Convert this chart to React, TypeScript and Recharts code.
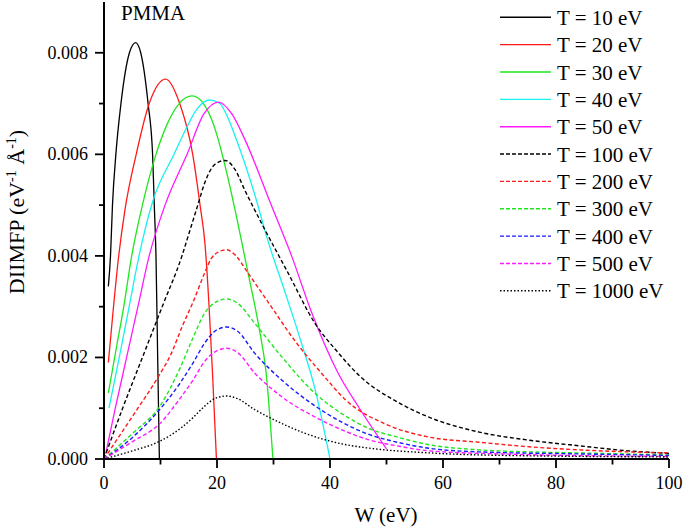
import React from "react";
import { LineChart, Line, XAxis, YAxis, Legend } from "recharts";

// [W (eV), DIIMFP (eV^-1 Å^-1)]
const T10: [number, number][] = [
  [0.77, 0.0034], [1.15, 0.004], [1.5, 0.005], [2.1, 0.006], [3.0, 0.007], [4.5, 0.008],
  [5.6, 0.0082], [6.5, 0.008], [7.8, 0.007], [8.6, 0.006], [8.9, 0.005], [9.2, 0.004],
  [9.5, 0.002], [9.8, 0.0],
];
const T20: [number, number][] = [
  [0.77, 0.0019], [1.6, 0.0029], [2.5, 0.0039], [3.7, 0.0049], [5.7, 0.006], [8.0, 0.007],
  [10.9, 0.00748], [13.4, 0.007], [15.7, 0.006], [17.0, 0.005], [17.9, 0.0042], [18.6, 0.003],
  [19.2, 0.0017], [19.9, 0.0],
];
const T30: [number, number][] = [
  [0.77, 0.0013], [2.2, 0.0022], [3.5, 0.003], [4.9, 0.004], [6.8, 0.005], [9.2, 0.006],
  [11.2, 0.0066], [13.3, 0.007], [15.6, 0.00715], [17.6, 0.007], [19.0, 0.0067], [20.2, 0.0063],
  [21.8, 0.0056], [23.7, 0.00464], [25.5, 0.00366], [27.3, 0.00267], [28.7, 0.00169], [29.9, 0.0],
];
const T40: [number, number][] = [
  [0.88, 0.001], [2.7, 0.002], [4.45, 0.003], [6.2, 0.004], [8.7, 0.0051], [12.4, 0.006],
  [14.5, 0.0065], [16.5, 0.0069], [18.7, 0.00707], [20.5, 0.007], [22.0, 0.0067], [23.4, 0.0063],
  [26.7, 0.0052], [29.0, 0.0043], [32.0, 0.0033], [34.9, 0.0023], [37.3, 0.0014], [40.0, 0.0],
];
const T50: [number, number][] = [
  [0.3, 0.0001], [2.0, 0.001], [4.0, 0.002], [6.0, 0.003], [8.0, 0.004], [10.8, 0.005],
  [14.7, 0.006], [17.7, 0.0068], [20.3, 0.00703], [22.6, 0.0068], [24.9, 0.0063], [29.6, 0.005],
  [33.2, 0.004], [36.7, 0.0029], [41.4, 0.0017], [45.2, 0.001], [50.0, 0.0002],
];
const T100: [number, number][] = [
  [0, 0], [3.3, 0.001], [6.8, 0.002], [10.3, 0.003], [13.8, 0.004], [15.2, 0.0045], [16.6, 0.005],
  [17.8, 0.00543], [19.6, 0.0058], [21.4, 0.00588], [23.2, 0.0057], [24.9, 0.0053], [27.9, 0.00464],
  [32.6, 0.00366], [37.3, 0.00268], [41.4, 0.0021], [45.2, 0.00164], [52.3, 0.0011], [57.6, 0.00082],
  [66.4, 0.00053], [75.3, 0.00037], [84.1, 0.00026], [92.9, 0.00016], [100, 0.00011],
];
const T200: [number, number][] = [
  [0, 0], [3, 0.0005], [6, 0.001], [9.5, 0.0016], [12, 0.0021], [13.8, 0.0026], [15.8, 0.0031],
  [17.8, 0.00366], [19.0, 0.00395], [20.3, 0.00408], [21.7, 0.00412], [23.2, 0.00402],
  [25.5, 0.00366], [29.6, 0.003], [33.7, 0.00234], [38.5, 0.00169], [42.8, 0.00116],
  [50.0, 0.00068], [57.6, 0.00043], [66.4, 0.00033], [75.3, 0.00024], [84.1, 0.00018],
  [92.9, 0.00014], [100, 0.00012],
];
const T300: [number, number][] = [
  [0, 0], [5, 0.0005], [10, 0.00106], [13.5, 0.0018], [15.8, 0.0024], [17.8, 0.00287],
  [19.8, 0.00309], [21.7, 0.00315], [23.6, 0.00307], [26.7, 0.00267], [31.4, 0.00202],
  [37.3, 0.0013], [42, 0.0009], [46.5, 0.00062], [52.3, 0.00042], [57.6, 0.00028],
  [66.4, 0.00018], [75.3, 0.00014], [84.1, 0.00012], [100, 0.00008],
];
const T400: [number, number][] = [
  [0, 0], [5, 0.00042], [9.5, 0.00093], [13.5, 0.0015], [15.8, 0.0019], [17.8, 0.00228],
  [19.8, 0.00253], [21.7, 0.0026], [23.6, 0.00252], [26.7, 0.00208], [31.4, 0.00156],
  [37.3, 0.00105], [42, 0.00073], [46.5, 0.0005], [52.3, 0.00032], [57.6, 0.00021],
  [66.4, 0.00014], [84.1, 0.0001], [100, 0.00007],
];
const T500: [number, number][] = [
  [0, 0], [5, 0.00034], [10, 0.00071], [13.5, 0.0012], [15.8, 0.00156], [17.8, 0.00192],
  [19.8, 0.00212], [21.7, 0.00218], [23.6, 0.0021], [26.7, 0.00169], [31.4, 0.00123],
  [37.3, 0.00083], [42, 0.00058], [46.5, 0.00039], [52.3, 0.00025], [57.6, 0.00016],
  [70, 0.0001], [100, 0.00005],
];
const T1000: [number, number][] = [
  [0, 0], [5, 0.00016], [9.5, 0.00033], [13.5, 0.0006], [15.8, 0.00082], [17.8, 0.00104],
  [19.8, 0.0012], [21.7, 0.00124], [23.6, 0.00119], [26.7, 0.00097], [29.6, 0.0008],
  [35.5, 0.00051], [42, 0.0003], [46.5, 0.00022], [57.6, 0.00012], [66.4, 0.00008], [100, 0.00004],
];

const SERIES_NAMES = [
  "T = 10 eV", "T = 20 eV", "T = 30 eV", "T = 40 eV", "T = 50 eV",
  "T = 100 eV", "T = 200 eV", "T = 300 eV", "T = 400 eV", "T = 500 eV", "T = 1000 eV",
];
const SERIES_DATA = [T10, T20, T30, T40, T50, T100, T200, T300, T400, T500, T1000];
const SERIES_COLORS = [
  "#000000", "#ff1a1a", "#1fe61f", "#1af0f0", "#ff1aff",
  "#000000", "#ff1a1a", "#1fe61f", "#1a1aff", "#ff1aff", "#000000",
];
const SERIES_DASH = [
  undefined, undefined, undefined, undefined, undefined,
  "4 2.5", "4 2.5", "4 2.5", "4 2.5", "4 2.5", "1.5 2",
];
const LEGEND_DASH = [
  undefined, undefined, undefined, undefined, undefined,
  "4 2", "4 2", "4 2", "4 2", "4 2", "1.5 2",
];

const X_TICKS = [0, 10, 20, 30, 40, 50, 60, 70, 80, 90, 100];
const Y_TICKS = [0, 0.001, 0.002, 0.003, 0.004, 0.005, 0.006, 0.007, 0.008];

const FONT = "'Liberation Serif', 'Times New Roman', serif";

const XTick = (props: any) => {
  const { x, y, payload } = props;
  const v = payload.value as number;
  const major = Math.round(v) % 20 === 0;
  return (
    <g>
      <line x1={x} x2={x} y1={y} y2={y + (major ? 9 : 5.5)} stroke="#000" strokeWidth={1.8} />
      {major && (
        <text x={x} y={y + 29.5} textAnchor="middle" fontFamily={FONT} fontSize={18} fill="#000">
          {String(v)}
        </text>
      )}
    </g>
  );
};

const YTick = (props: any) => {
  const { x, y, payload } = props;
  const v = payload.value as number;
  const major = Math.round(v * 1000) % 2 === 0;
  return (
    <g>
      <line x1={x} x2={x - (major ? 9 : 5)} y1={y} y2={y} stroke="#000" strokeWidth={1.8} />
      {major && (
        <text x={x - 16} y={y + 6} textAnchor="end" fontFamily={FONT} fontSize={18} fill="#000">
          {v.toFixed(3)}
        </text>
      )}
    </g>
  );
};

const XTitle = () => (
  <text x={386} y={522} textAnchor="middle" fontFamily={FONT} fontSize={21} fill="#000">
    W (eV)
  </text>
);

const YTitle = () => (
  <text
    transform="translate(23.5,212) rotate(-90)"
    x={0}
    y={0}
    textAnchor="middle"
    fontFamily={FONT}
    fontSize={22}
    fill="#000"
  >
    <tspan>DIIMFP (eV</tspan>
    <tspan dy={-8} fontSize={14}>-1</tspan>
    <tspan dy={8}> Å</tspan>
    <tspan dy={-8} fontSize={14}>-1</tspan>
    <tspan dy={8}>)</tspan>
  </text>
);

const LegendBox = () => (
  <svg width={196} height={310} style={{ display: "block" }}>
    {SERIES_NAMES.map((name, i) => {
      const cy = 17.3 + i * 27.35;
      return (
        <g key={name}>
          <line
            x1={10}
            x2={61}
            y1={cy}
            y2={cy}
            stroke={SERIES_COLORS[i]}
            strokeWidth={1.4}
            strokeDasharray={LEGEND_DASH[i]}
          />
          <text x={67} y={cy + 7.5} fontFamily={FONT} fontSize={21} fill="#000">
            {name}
          </text>
        </g>
      );
    })}
  </svg>
);

export default function App() {
  return (
    <div style={{ position: "absolute", left: 0, top: 0, width: 686, height: 529, background: "#fff" }}>
      <LineChart width={686} height={529} margin={{ top: 2, right: 17, bottom: 0, left: 0 }}>
        <XAxis
          type="number"
          dataKey="w"
          domain={[0, 100]}
          ticks={X_TICKS}
          interval={0}
          height={70}
          tickSize={0}
          tickMargin={0}
          tickLine={false}
          axisLine={{ stroke: "#000", strokeWidth: 2 }}
          tick={<XTick />}
          label={{ content: XTitle }}
        />
        <YAxis
          type="number"
          dataKey="v"
          domain={[0, 0.009]}
          ticks={Y_TICKS}
          interval={0}
          width={104}
          tickSize={0}
          tickMargin={0}
          tickLine={false}
          axisLine={{ stroke: "#000", strokeWidth: 2 }}
          tick={<YTick />}
          label={{ content: YTitle }}
        />
        <Legend
          layout="vertical"
          align="center"
          verticalAlign="middle"
          wrapperStyle={{ left: 490, top: 0, width: 196, height: 310 }}
          content={() => <LegendBox />}
        />
        {SERIES_DATA.map((pts, i) => (
          <Line
            key={SERIES_NAMES[i]}
            name={SERIES_NAMES[i]}
            data={pts.map(([w, v]) => ({ w, v }))}
            dataKey="v"
            type="monotone"
            stroke={SERIES_COLORS[i]}
            strokeWidth={i < 5 ? 1.3 : 1.4}
            strokeDasharray={SERIES_DASH[i]}
            dot={false}
            activeDot={false}
            isAnimationActive={false}
          />
        ))}
      </LineChart>
      <svg
        width={686}
        height={40}
        style={{ position: "absolute", left: 0, top: 0, pointerEvents: "none" }}
      >
        <text x={121} y={19.5} fontFamily={FONT} fontSize={21} fill="#000">
          PMMA
        </text>
      </svg>
    </div>
  );
}
